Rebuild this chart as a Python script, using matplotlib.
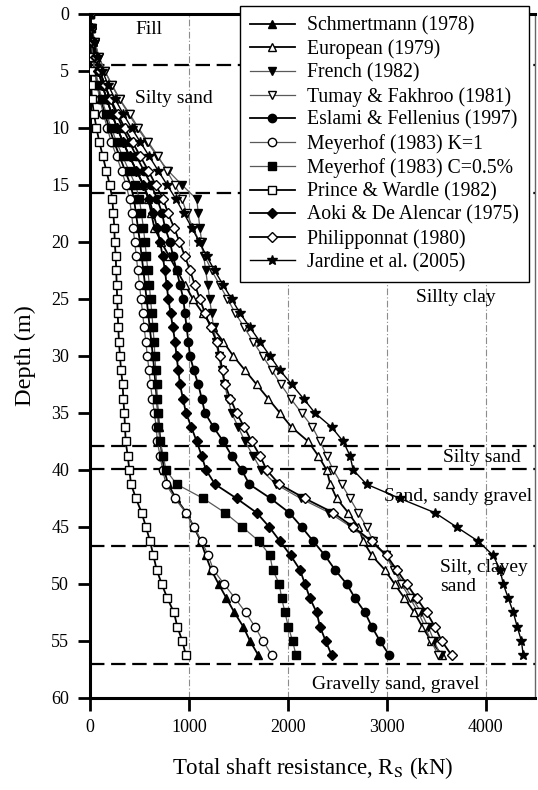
import numpy as np
import matplotlib
matplotlib.use("Agg")
import matplotlib.pyplot as plt

plt.rcParams['font.family'] = ['Liberation Serif', 'DejaVu Serif']
plt.rcParams['mathtext.fontset'] = 'stix'

# depth of each CPT reading (m)
depth = [0, 1.25, 2.5, 3.75, 5, 6.25, 7.5, 8.75, 10, 11.25, 12.5, 13.75, 15, 16.25,
         17.5, 18.75, 20, 21.25, 22.5, 23.75, 25, 26.25, 27.5, 28.75, 30, 31.25,
         32.5, 33.75, 35, 36.25, 37.5, 38.75, 40, 41.25, 42.5, 43.75, 45, 46.25,
         47.5, 48.75, 50, 51.25, 52.5, 53.75, 55, 56.25]

# total shaft resistance (kN) for each method
schmertmann = [0, 5, 14, 28, 50, 78, 110, 150, 195, 245, 300, 355, 410,
               445, 465, 485, 505, 522, 540, 556, 572, 588, 604, 620, 636, 650, 662, 675, 688, 700,
               712, 728, 750, 790, 870, 975, 1050, 1120, 1170, 1225, 1300, 1380, 1460, 1550, 1618, 1702]
european = [0, 8, 25, 50, 85, 125, 170, 220, 275, 335, 400, 470, 540,
            590, 620, 650, 720, 800, 880, 960, 1040, 1140, 1240, 1348, 1449, 1567, 1685, 1803,
            1921, 2039, 2207, 2308, 2393, 2430, 2494, 2612, 2713, 2764, 2850, 2980, 3080, 3180,
            3280, 3360, 3450, 3560]
french = [0, 20, 50, 90, 150, 220, 300, 390, 480, 580, 680, 790, 930,
          1080, 1095, 1110, 1130, 1150, 1170, 1190, 1210, 1230, 1250, 1275, 1300, 1330, 1360,
          1395, 1432, 1500, 1567, 1650, 1730, 1880, 2130, 2420, 2640, 2840, 2990, 3080, 3170,
          3260, 3350, 3420, 3480, 3545]
tumay = [0, 20, 50, 90, 150, 225, 303, 400, 490, 590, 690, 775, 860,
         930, 980, 1040, 1110, 1160, 1230, 1310, 1390, 1470, 1560, 1650, 1745, 1840, 1930, 2030,
         2140, 2250, 2326, 2393, 2460, 2545, 2629, 2713, 2797, 2864, 2990, 3070, 3150, 3236,
         3320, 3387, 3450, 3522]
eslami = [0, 10, 30, 60, 100, 150, 205, 265, 330, 400, 470, 545, 620,
          680, 730, 758, 809, 840, 876, 910, 944, 960, 977, 995, 1011, 1050, 1095, 1130, 1163,
          1250, 1348, 1432, 1534, 1611, 1827, 2015, 2140, 2258, 2376, 2477, 2596, 2680, 2781,
          2850, 2932, 3027]
meyerhof_k = [0, 5, 12, 25, 45, 70, 100, 135, 175, 215, 270, 320, 365,
              400, 420, 436, 452, 468, 484, 500, 516, 532, 548, 564, 580, 596, 612, 630, 650, 670,
              681, 708, 735, 768, 859, 971, 1052, 1129, 1196, 1247, 1355, 1466, 1574, 1668, 1750, 1837]
meyerhof_c = [0, 5, 15, 30, 55, 85, 120, 165, 215, 270, 330, 395, 460,
              500, 520, 540, 556, 570, 585, 600, 612, 625, 637, 648, 656, 665, 674, 681, 684, 691,
              708, 741, 768, 876, 1146, 1365, 1540, 1709, 1820, 1847, 1914, 1938, 1972, 2005, 2049, 2083]
prince = [0, 2, 4, 6, 8, 12, 20, 40, 65, 95, 130, 165, 200,
          226, 236, 246, 250, 260, 265, 270, 275, 280, 286, 293, 303, 314, 330, 337, 347, 354,
          361, 381, 398, 415, 465, 522, 566, 607, 641, 674, 725, 782, 849, 883, 933, 970]
aoki = [0, 8, 25, 50, 85, 125, 170, 220, 275, 335, 400, 470, 540,
        600, 640, 680, 708, 735, 758, 775, 792, 815, 838, 860, 875, 893, 910, 940, 971, 1025,
        1079, 1129, 1173, 1264, 1483, 1685, 1813, 1921, 2029, 2123, 2174, 2224, 2292, 2326, 2383, 2444]
philipponnat = [0, 10, 30, 60, 100, 150, 210, 280, 350, 430, 510, 590, 665,
                740, 790, 850, 905, 960, 1011, 1060, 1110, 1163, 1220, 1281, 1310, 1340, 1365,
                1420, 1483, 1560, 1635, 1719, 1786, 1914, 2174, 2460, 2662, 2848, 3000, 3100,
                3202, 3303, 3404, 3488, 3556, 3657]
jardine = [0, 15, 40, 75, 125, 185, 255, 335, 420, 510, 600, 690, 780, 870, 950, 1030, 1105,
           1180, 1260, 1345, 1432, 1517, 1618, 1719, 1820, 1921, 2040, 2160, 2275, 2444, 2561,
           2629, 2662, 2797, 3134, 3488, 3707, 3926, 4078, 4146, 4179, 4230, 4281, 4320, 4363, 4381]

# soil layer boundaries (m) and labels
layer_depths = [4.5, 15.7, 37.9, 39.9, 46.7, 57.0]
layer_names = ["Fill", "Silty sand", "Sillty clay", "Silty sand", "Sand, sandy gravel",
               "Silt, clayey\nsand", "Gravelly sand, gravel"]
label_x = [600, 850, 3700, 3960, 3720, 3540, 3090]
label_y = [1.4, 7.4, 24.9, 38.9, 42.3, 49.4, 58.8]
label_ha = ["center", "center", "center", "center", "center", "left", "center"]

series = [
    ("Schmertmann (1978)", schmertmann, '^', 'k', 'k', 1.3, 6),
    ("European (1979)", european, '^', 'k', 'w', 1.3, 6),
    ("French (1982)", french, 'v', '0.35', 'k', 0.9, 6),
    ("Tumay & Fakhroo (1981)", tumay, 'v', '0.35', 'w', 0.9, 6),
    ("Eslami & Fellenius (1997)", eslami, 'o', 'k', 'k', 1.3, 6),
    ("Meyerhof (1983) K=1", meyerhof_k, 'o', '0.35', 'w', 0.9, 6),
    ("Meyerhof (1983) C=0.5%", meyerhof_c, 's', '0.35', 'k', 0.9, 5.5),
    ("Prince & Wardle (1982)", prince, 's', 'k', 'w', 1.3, 5.5),
    ("Aoki & De Alencar (1975)", aoki, 'D', 'k', 'k', 1.3, 5),
    ("Philipponnat (1980)", philipponnat, 'D', 'k', 'w', 1.3, 5),
    ("Jardine et al. (2005)", jardine, '*', 'k', 'k', 1.0, 7.5),
]

fig = plt.figure(figsize=(5.38, 7.9), dpi=100)
ax = fig.add_axes([0.1673, 0.1165, 0.8271, 0.8658])

for x in [1000, 2000, 3000, 4000]:
    ax.axvline(x, color='0.55', lw=0.8, ls=(0, (6, 2, 1, 2)), zorder=0)
for d in layer_depths:
    ax.axhline(d, color='k', lw=1.6, ls=(0, (6.5, 3)), zorder=1)

for name, vals, mk, lc, fc, lw, ms in series:
    ax.plot(vals, depth, color=lc, lw=lw, marker=mk, ms=ms, mfc=fc, mec='k',
            mew=1.0, label=name, zorder=3)

for txt, x, y, ha in zip(layer_names, label_x, label_y, label_ha):
    ax.text(x, y, txt, fontsize=14, ha=ha, va='center', linespacing=1.1, zorder=4)

ax.set_xlim(0, 4500)
ax.set_ylim(60, 0)
ax.set_xticks([0, 1000, 2000, 3000, 4000])
ax.set_yticks(range(0, 61, 5))
ax.tick_params(direction='out', length=9, width=2, labelsize=13, pad=6,
               top=False, right=False)
for s in ['left', 'bottom', 'top']:
    ax.spines[s].set_linewidth(2.2)
ax.spines['right'].set_linewidth(1.0)
ax.spines['right'].set_color('0.4')

ax.set_xlabel(r"Total shaft resistance, R$_\mathrm{S}$ (kN)", fontsize=16.5, labelpad=14)
ax.set_ylabel("Depth (m)", fontsize=17.5, labelpad=11)

leg = ax.legend(loc='upper left', bbox_to_anchor=(0.446, 0.992),
                bbox_transform=fig.transFigure, fontsize=14.2, labelspacing=0.21,
                handlelength=2.3, handletextpad=0.6, borderpad=0.5, borderaxespad=0,
                fancybox=False, framealpha=1, edgecolor='k')
leg.get_frame().set_linewidth(1.0)
leg.set_zorder(10)

fig.savefig("out.png", dpi=100)
